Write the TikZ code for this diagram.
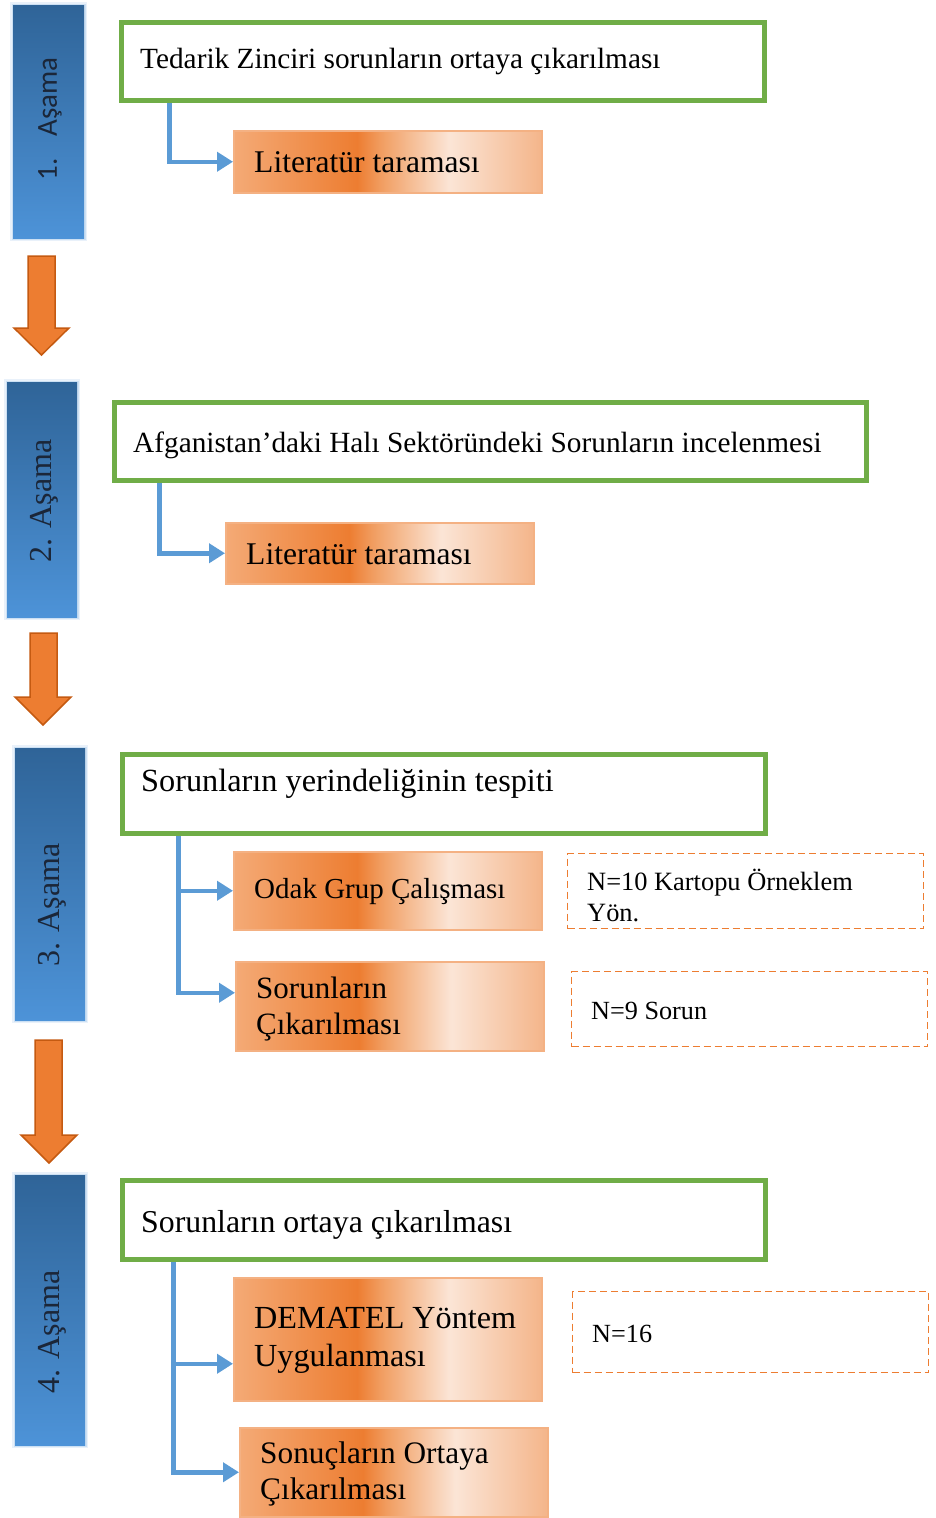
\documentclass[tikz,border=0pt]{standalone}
\usepackage{fontspec}
\setmainfont{Liberation Serif}
\newfontfamily\calibrifont{Carlito}
\usetikzlibrary{arrows.meta}
\definecolor{grn}{HTML}{70AD47}
\definecolor{conn}{HTML}{5B9BD5}
\definecolor{orfill}{HTML}{ED7D31}
\definecolor{ordark}{HTML}{C55A11}
\definecolor{orline}{HTML}{F4B183}
\definecolor{orA}{HTML}{F4AA76}
\definecolor{orB}{HTML}{ED7D31}
\definecolor{orC}{HTML}{F19E62}
\definecolor{orD}{HTML}{FBE5D6}
\definecolor{orE}{HTML}{F4B58A}
\definecolor{blueA}{HTML}{2F6498}
\definecolor{blueB}{HTML}{4D93D8}
\definecolor{stagetxt}{HTML}{1B2638}
\pgfdeclarehorizontalshading{orshade}{100bp}{color(0bp)=(orA); color(25bp)=(orA); color(45bp)=(orB); color(49bp)=(orC); color(60bp)=(orD); color(75bp)=(orE); color(100bp)=(orE)}
\newcommand\fsz[2]{\fontsize{#1}{#2}\selectfont}
\tikzset{
  greenbox/.style={draw=grn, line width=5.5pt, fill=white, inner sep=0pt, anchor=north west},
  orbox/.style={draw=orline, line width=1.5pt, shading=orshade, inner sep=0pt, anchor=north west},
  dashbox/.style={draw=orfill, line width=1.2pt, dash pattern=on 7pt off 4pt, inner sep=0pt, anchor=north west},
  stagebar/.style={top color=blueA, bottom color=blueB, inner sep=0pt, anchor=north west},
  connector/.style={draw=conn, line width=4.5pt, -{Triangle[length=16pt,width=19pt]}},
  txt/.style={inner sep=0pt, anchor=west, text=black},
  stagetext/.style={inner sep=0pt, rotate=90, text=stagetxt},
  bigarrow/.style={fill=orfill, draw=ordark, line width=1.5pt, line join=miter}
}
\newcommand\halo[4]{%
  \fill[blueB, opacity=0.12] (#1-3,#2-3) rectangle (#3+3,#4+3);
  \fill[blueB, opacity=0.18] (#1-1.5,#2-1.5) rectangle (#3+1.5,#4+1.5);}
\begin{document}
\begin{tikzpicture}[x=1pt, y=-1pt]
\useasboundingbox (0,0) rectangle (936,1518);
\fill[white] (0,0) rectangle (936,1518);

% ---------- Stage 1 ----------
\halo{13}{5}{84}{238}
\node[stagebar, minimum width=71pt, minimum height=233pt] (s1) at (13,5) {};
\node[stagetext, font=\calibrifont\fsz{29pt}{35pt}] (s1t) at (50,119) {1.\hspace{22pt}Aşama};
\node[greenbox, minimum width=643pt, minimum height=78pt] (g1) at (118.5,19.5) {};
\node[txt, font=\fsz{29.3pt}{35pt}] (g1t) at (140,61) {Tedarik Zinciri sorunların ortaya çıkarılması};
\node[orbox, minimum width=308pt, minimum height=62pt] (o1) at (233,130) {};
\node[txt, font=\fsz{31.6pt}{36pt}] (o1t) at (254,162) {Literatür taraması};
\draw[connector] ([xshift=51pt]g1.south west) |- (o1.west);
\draw[bigarrow] (28,256) -- (55,256) -- (55,328) -- (69,328) -- (41.5,355) -- (14,328) -- (28,328) -- cycle;

% ---------- Stage 2 ----------
\halo{7}{382}{77}{617}
\node[stagebar, minimum width=70pt, minimum height=235pt] (s2) at (7,382) {};
\node[stagetext, font=\fsz{32pt}{38pt}] (s2t) at (44,501) {2. Aşama};
\node[greenbox, minimum width=752pt, minimum height=78pt] (g2) at (111.5,399.5) {};
\node[txt, font=\fsz{29.3pt}{35pt}] (g2t) at (133,445) {Afganistan’daki Halı Sektöründeki Sorunların incelenmesi};
\node[orbox, minimum width=308pt, minimum height=61pt] (o2) at (225,522) {};
\node[txt, font=\fsz{31.6pt}{36pt}] (o2t) at (246,554) {Literatür taraması};
\draw[connector] ([xshift=48pt]g2.south west) |- (o2.west);
\draw[bigarrow] (30,633) -- (57,633) -- (57,697) -- (71,697) -- (43,725) -- (15,697) -- (30,697) -- cycle;

% ---------- Stage 3 ----------
\halo{15}{748}{85}{1020}
\node[stagebar, minimum width=70pt, minimum height=272pt] (s3) at (15,748) {};
\node[stagetext, font=\fsz{32pt}{38pt}] (s3t) at (52,905) {3. Aşama};
\node[greenbox, minimum width=643pt, minimum height=79pt] (g3) at (119.5,751.5) {};
\node[txt, font=\fsz{32.3pt}{36pt}] (g3t) at (141,784) {Sorunların yerindeliğinin tespiti};
\node[orbox, minimum width=308pt, minimum height=78pt] (o3a) at (233,851) {};
\node[txt, font=\fsz{29pt}{34pt}] (o3at) at (254,892) {Odak Grup Çalışması};
\node[orbox, minimum width=308pt, minimum height=89pt] (o3b) at (235,961) {};
\node[txt, font=\fsz{31pt}{36pt}, align=left] (o3bt) at (256,1009) {Sorunların\\Çıkarılması};
\node[dashbox, minimum width=356pt, minimum height=75pt] (d3a) at (567,853) {};
\node[txt, font=\fsz{26.4pt}{31pt}, align=left] (d3at) at (587,895) {N=10 Kartopu Örneklem\\Yön.};
\node[dashbox, minimum width=356pt, minimum height=75pt] (d3b) at (571,971) {};
\node[txt, font=\fsz{26.2pt}{31pt}] (d3bt) at (591,1011) {N=9 Sorun};
\coordinate (c3) at ([xshift=59pt]g3.south west);
\draw[connector] (c3) |- (o3a.west);
\draw[connector] (c3) |- ([yshift=13.5pt]o3b.west);
\draw[bigarrow] (35,1040) -- (62,1040) -- (62,1135) -- (77,1135) -- (49,1163) -- (21,1135) -- (35,1135) -- cycle;

% ---------- Stage 4 ----------
\halo{15}{1175}{85}{1445}
\node[stagebar, minimum width=70pt, minimum height=270pt] (s4) at (15,1175) {};
\node[stagetext, font=\fsz{32pt}{38pt}] (s4t) at (52,1332) {4. Aşama};
\node[greenbox, minimum width=643pt, minimum height=79pt] (g4) at (119.5,1177.5) {};
\node[txt, font=\fsz{31.8pt}{36pt}] (g4t) at (141,1225) {Sorunların ortaya çıkarılması};
\node[orbox, minimum width=308pt, minimum height=123pt] (o4a) at (233,1277) {};
\node[txt, font=\fsz{32.2pt}{38pt}, align=left] (o4at) at (254,1340) {DEMATEL Yöntem\\Uygulanması};
\node[orbox, minimum width=308pt, minimum height=89pt] (o4b) at (239,1427) {};
\node[txt, font=\fsz{31.3pt}{36pt}, align=left] (o4bt) at (260,1474) {Sonuçların Ortaya\\Çıkarılması};
\node[dashbox, minimum width=356pt, minimum height=81pt] (d4) at (572,1291) {};
\node[txt, font=\fsz{26.2pt}{31pt}] (d4t) at (592,1334) {N=16};
\coordinate (c4) at ([xshift=54pt]g4.south west);
\draw[connector] (c4) |- ([yshift=-24.5pt]o4a.west);
\draw[connector] (c4) |- (o4b.west);
\end{tikzpicture}
\end{document}
